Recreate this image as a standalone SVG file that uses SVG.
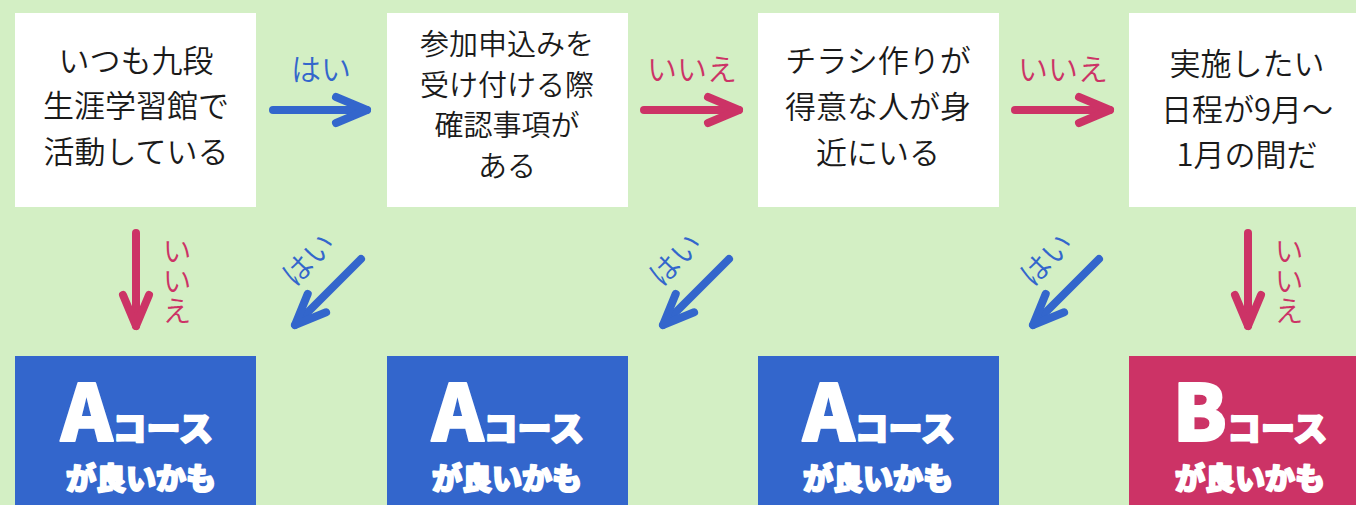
<svg xmlns="http://www.w3.org/2000/svg" width="1356" height="505" viewBox="0 0 1356 505">
  <style>
    .box { fill: #ffffff; }
    .q { font-family: "Noto Sans CJK JP", "Noto Sans", sans-serif; font-weight: 350; font-size: 31px; fill: #1a1a1a; text-anchor: middle; }
    .q2 { font-size: 29px; }
    .lbl { font-family: "Noto Sans CJK JP", "Noto Sans", sans-serif; font-weight: 350; font-size: 30px; text-anchor: middle; }
    .vert { writing-mode: vertical-rl; text-anchor: start; font-size: 29px; letter-spacing: 1px; }
    .yes { fill: #3366cc; }
    .no { fill: #cc3366; }
    .ln { fill: none; stroke-width: 8; stroke-linecap: round; }
    .lb { stroke: #3366cc; marker-end: url(#hb); }
    .lp { stroke: #cc3366; marker-end: url(#hp); }
    .res { font-family: "Noto Sans CJK JP", "Noto Sans", sans-serif; font-weight: 900; fill: #ffffff; stroke: #ffffff; stroke-width: 2; stroke-linejoin: round; text-anchor: middle; }
    .big { font-size: 78px; }
    .mid { font-size: 34px; }
    .sub { font-size: 30px; }
  </style>
  <defs>
    <marker id="hb" markerUnits="userSpaceOnUse" viewBox="-40 -20 50 40" refX="0" refY="0" markerWidth="50" markerHeight="40" orient="auto" overflow="visible">
      <path d="M-31,-13 L0,0 L-31,13" fill="none" stroke="#3366cc" stroke-width="8" stroke-linecap="round" stroke-linejoin="round"/>
    </marker>
    <marker id="hp" markerUnits="userSpaceOnUse" viewBox="-40 -20 50 40" refX="0" refY="0" markerWidth="50" markerHeight="40" orient="auto" overflow="visible">
      <path d="M-31,-13 L0,0 L-31,13" fill="none" stroke="#cc3366" stroke-width="8" stroke-linecap="round" stroke-linejoin="round"/>
    </marker>
  </defs>
  <rect x="0" y="0" width="1356" height="505" fill="#d3efc4"/>

  <g id="q1">
    <rect class="box" x="15" y="13" width="241" height="194"/>
    <text class="q"><tspan x="136" y="72">いつも九段</tspan><tspan x="136" y="117">生涯学習館で</tspan><tspan x="136" y="163">活動している</tspan></text>
  </g>
  <g id="q2">
    <rect class="box" x="387" y="13" width="241" height="194"/>
    <text class="q q2"><tspan x="507" y="55">参加申込みを</tspan><tspan x="507" y="96">受け付ける際</tspan><tspan x="507" y="136">確認事項が</tspan><tspan x="507" y="177">ある</tspan></text>
  </g>
  <g id="q3">
    <rect class="box" x="758" y="13" width="241" height="194"/>
    <text class="q"><tspan x="878" y="72">チラシ作りが</tspan><tspan x="878" y="118">得意な人が身</tspan><tspan x="878" y="164">近にいる</tspan></text>
  </g>
  <g id="q4">
    <rect class="box" x="1129" y="13" width="241" height="194"/>
    <text class="q"><tspan x="1247" y="75">実施したい</tspan><tspan x="1247" y="121">日程が9月～</tspan><tspan x="1247" y="166">1月の間だ</tspan></text>
  </g>

  <g id="r1">
    <rect x="15" y="356" width="241" height="150" fill="#3366cc"/>
    <text class="res" x="137" y="441"><tspan class="big">A</tspan><tspan class="mid">コース</tspan></text>
    <text class="res sub" x="141" y="489">が良いかも</text>
  </g>
  <g id="r2">
    <rect x="387" y="356" width="241" height="150" fill="#3366cc"/>
    <text class="res" x="508" y="441"><tspan class="big">A</tspan><tspan class="mid">コース</tspan></text>
    <text class="res sub" x="507" y="489">が良いかも</text>
  </g>
  <g id="r3">
    <rect x="758" y="356" width="241" height="150" fill="#3366cc"/>
    <text class="res" x="879" y="441"><tspan class="big">A</tspan><tspan class="mid">コース</tspan></text>
    <text class="res sub" x="878" y="489">が良いかも</text>
  </g>
  <g id="r4">
    <rect x="1129" y="356" width="241" height="150" fill="#cc3366"/>
    <text class="res" x="1250" y="441"><tspan class="big">B</tspan><tspan class="mid">コース</tspan></text>
    <text class="res sub" x="1250" y="489">が良いかも</text>
  </g>

  <g id="connectors">
    <line class="ln lb" x1="273" y1="110" x2="367" y2="110"/>
    <text class="lbl yes" x="321" y="80">はい</text>
    <line class="ln lp" x1="644" y1="110" x2="739" y2="110"/>
    <text class="lbl no" x="692" y="80">いいえ</text>
    <line class="ln lp" x1="1015" y1="110" x2="1110" y2="110"/>
    <text class="lbl no" x="1063" y="80">いいえ</text>

    <line class="ln lp" x1="136" y1="233" x2="136" y2="326"/>
    <text class="lbl vert no" x="177" y="236">いいえ</text>
    <line class="ln lp" x1="1248" y1="233" x2="1248" y2="326"/>
    <text class="lbl vert no" x="1289" y="236">いいえ</text>

    <line class="ln lb" x1="361" y1="259" x2="295" y2="325"/>
    <text class="lbl yes" x="309" y="270" transform="rotate(-45 309 260)">はい</text>
    <line class="ln lb" x1="729" y1="259" x2="663" y2="325"/>
    <text class="lbl yes" x="676" y="270" transform="rotate(-45 676 260)">はい</text>
    <line class="ln lb" x1="1099" y1="259" x2="1033" y2="325"/>
    <text class="lbl yes" x="1047" y="270" transform="rotate(-45 1047 260)">はい</text>
  </g>
</svg>
